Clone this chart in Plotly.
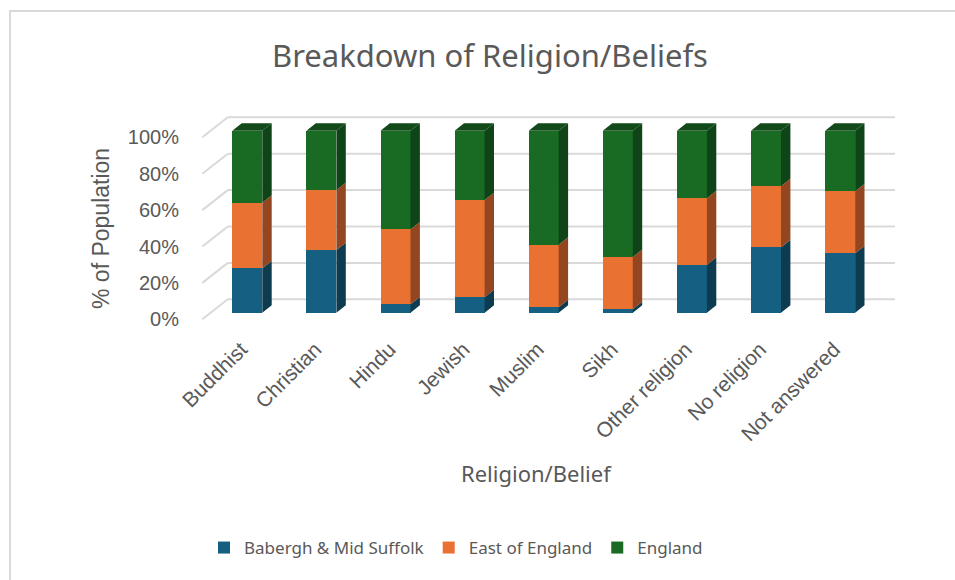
import plotly.graph_objects as go

# ---------------- data ----------------
categories = ["Buddhist", "Christian", "Hindu", "Jewish", "Muslim", "Sikh",
              "Other religion", "No religion", "Not answered"]
series_names = ["Babergh & Mid Suffolk", "East of England", "England"]
babergh = [24.4, 34.4, 4.6, 8.5, 3.0, 1.9, 26.4, 35.9, 32.6]
east_of_england = [36.0, 33.0, 41.2, 53.4, 34.4, 28.7, 36.5, 33.6, 34.1]
england = [39.6, 32.6, 54.2, 38.1, 62.6, 69.4, 37.1, 30.5, 33.3]
y_ticks = [0, 20, 40, 60, 80, 100]
y_tick_labels = ["0%", "20%", "40%", "60%", "80%", "100%"]

# ---------------- style ----------------
front_colors = ["#156082", "#E97132", "#196B24"]
side_colors = ["#0D3B50", "#934620", "#0F4318"]
top_color = "#124A1A"
grid_color = "#D9D9D9"
text_color = "#595959"

W, H = 955, 580
L, R, T, B = 190, 900, 100, 330           # plot area in pixels
PX_PER_CAT = 74.1
CAT0_PX = 247.3
ZERO_PX = 312.7
PX_PER_PCT = 1.82

x_range = [(L - CAT0_PX) / PX_PER_CAT, (R - CAT0_PX) / PX_PER_CAT]
y_range = [(ZERO_PX - B) / PX_PER_PCT, (ZERO_PX - T) / PX_PER_PCT]

BAR_W = 30 / PX_PER_CAT
DEPTH_X = 9.4 / PX_PER_CAT
DEPTH_Y = 7.4 / PX_PER_PCT

GRID_FRONT_X = (202.3 - CAT0_PX) / PX_PER_CAT
GRID_BACK_X = (227.8 - CAT0_PX) / PX_PER_CAT
GRID_RIGHT_X = (895 - CAT0_PX) / PX_PER_CAT
GRID_FRONT_DY = -6.6 / PX_PER_PCT
GRID_BACK_DY = 13.4 / PX_PER_PCT

def px_x(p):
    return (p - L) / (R - L)

def px_y(p):
    return (B - p) / (B - T)

positions = list(range(len(categories)))
values = [babergh, east_of_england, england]

fig = go.Figure()

# front faces (real stacked bars)
for name, vals, col in zip(series_names, values, front_colors):
    fig.add_trace(go.Bar(
        x=positions, y=vals, name=name, width=BAR_W,
        marker=dict(color=col, line=dict(width=0)),
        hoverinfo="skip",
    ))

# side faces and top faces computed from the data
n = len(categories)
bottoms = [0.0] * n
for si, (vals, scol) in enumerate(zip(values, side_colors)):
    xs, ys = [], []
    for i in range(n):
        x1 = positions[i] + BAR_W / 2
        y0 = bottoms[i]
        y1 = bottoms[i] + vals[i]
        xs += [x1, x1 + DEPTH_X, x1 + DEPTH_X, x1, x1, None]
        ys += [y0, y0 + DEPTH_Y, y1 + DEPTH_Y, y1, y0, None]
        bottoms[i] = y1
    fig.add_trace(go.Scatter(
        x=xs, y=ys, mode="lines", fill="toself", fillcolor=scol,
        line=dict(width=0, color=scol), showlegend=False, hoverinfo="skip",
    ))

xs, ys = [], []
for i in range(n):
    x0 = positions[i] - BAR_W / 2
    x1 = positions[i] + BAR_W / 2
    yt = bottoms[i]
    xs += [x0, x0 + DEPTH_X, x1 + DEPTH_X, x1, x0, None]
    ys += [yt, yt + DEPTH_Y, yt + DEPTH_Y, yt, yt, None]
fig.add_trace(go.Scatter(
    x=xs, y=ys, mode="lines", fill="toself", fillcolor=top_color,
    line=dict(width=0, color=top_color), showlegend=False, hoverinfo="skip",
))

# 3D gridlines (left wall diagonal + back wall horizontal)
shapes = []
for t in y_ticks:
    shapes.append(dict(type="line", xref="x", yref="y", layer="below",
                       x0=GRID_FRONT_X, y0=t + GRID_FRONT_DY,
                       x1=GRID_BACK_X, y1=t + GRID_BACK_DY,
                       line=dict(color=grid_color, width=2)))
    shapes.append(dict(type="line", xref="x", yref="y", layer="below",
                       x0=GRID_BACK_X, y0=t + GRID_BACK_DY,
                       x1=GRID_RIGHT_X, y1=t + GRID_BACK_DY,
                       line=dict(color=grid_color, width=2)))

# chart-area border (left and top visible)
shapes.append(dict(type="line", xref="paper", yref="paper",
                   x0=px_x(10), y0=px_y(11), x1=px_x(10), y1=px_y(585),
                   line=dict(color=grid_color, width=2)))
shapes.append(dict(type="line", xref="paper", yref="paper",
                   x0=px_x(9), y0=px_y(11), x1=px_x(960), y1=px_y(11),
                   line=dict(color=grid_color, width=2)))

annotations = [
    dict(text="% of Population", xref="paper", yref="paper",
         x=px_x(101), y=px_y(229), textangle=-90, showarrow=False,
         xanchor="center", yanchor="middle",
         font=dict(family="Liberation Sans", size=23, color=text_color)),
    dict(text="Religion/Belief", xref="paper", yref="paper",
         x=px_x(536), y=px_y(473), showarrow=False,
         xanchor="center", yanchor="middle",
         font=dict(family="Noto Sans", size=22, color=text_color)),
]

fig.update_layout(
    width=W, height=H,
    margin=dict(l=L, r=W - R, t=T, b=H - B, autoexpand=False),
    paper_bgcolor="white", plot_bgcolor="white",
    barmode="stack", bargap=0,
    title=dict(text="Breakdown of Religion/Beliefs",
               x=490 / W, y=1 - 56 / H, xanchor="center", yanchor="middle",
               font=dict(family="Noto Sans", size=31, color=text_color)),
    xaxis=dict(range=x_range, tickmode="array", tickvals=positions,
               ticktext=categories, tickangle=-45, showgrid=False,
               zeroline=False, showline=False, ticks="",
               ticklabelshift=-6, ticklabelstandoff=2,
               tickfont=dict(family="Liberation Sans", size=21, color=text_color)),
    yaxis=dict(range=y_range, tickmode="array",
               tickvals=[t + GRID_FRONT_DY for t in y_ticks],
               ticktext=y_tick_labels, showgrid=False, zeroline=False,
               showline=False, ticks="", ticklabelstandoff=10,
               tickfont=dict(family="Liberation Sans", size=20, color=text_color)),
    legend=dict(orientation="h", x=px_x(456), y=px_y(548),
                xanchor="center", yanchor="middle", traceorder="normal",
                font=dict(family="Noto Sans", size=17, color=text_color),
                itemclick=False, itemdoubleclick=False),
    shapes=shapes, annotations=annotations,
)

fig.write_html("out.html")
